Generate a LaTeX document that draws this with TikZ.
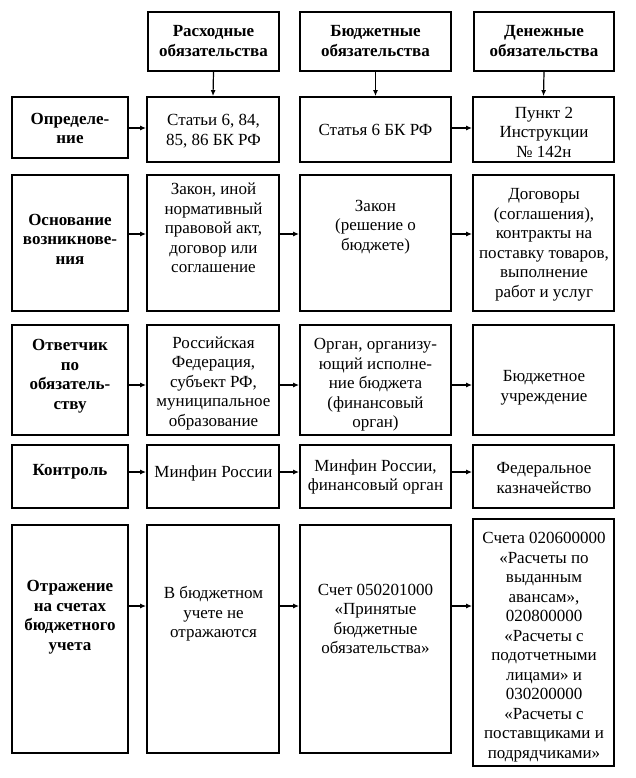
\documentclass[tikz,border=0pt]{standalone}
\usepackage{fontspec}
\setmainfont{Liberation Serif}
\usetikzlibrary{arrows.meta}
\newcommand\mkbox[5]{\node[cellbox, minimum width={#3-#2}, minimum height={#5-#4}] (#1) at ({(#2+#3)/2},{(#4+#5)/2}) {};}
\begin{document}
\begin{tikzpicture}[x=1pt,y=-1pt,
  cellbox/.style={draw, line width=1.8pt, inner sep=0pt},
  txt/.style={align=center, inner sep=0pt, font=\fontsize{17}{19.5}\selectfont},
  btxt/.style={txt, font=\fontsize{17}{19.5}\selectfont\bfseries},
  arr/.style={line width=1.2pt, -{Latex[length=6pt,width=5pt]}}]
\useasboundingbox (0,0) rectangle (635,778);
% header
\mkbox{h1}{148}{279}{12}{71}
\mkbox{h2}{300}{451}{12}{71}
\mkbox{h3}{474}{614}{12}{71}
\node[btxt] at (213.5,41) {Расходные\\обязательства};
\node[btxt] at (375.5,41) {Бюджетные\\обязательства};
\node[btxt] at (544,41) {Денежные\\обязательства};
% row 1
\mkbox{a0}{12}{128}{97}{158}
\mkbox{a1}{147}{279}{97}{162}
\mkbox{a2}{300}{451}{97}{162}
\mkbox{a3}{473}{614}{97}{162}
\node[btxt] at (70,128.5) {Определе-\\ние};
\node[txt] at (213.5,131) {Статьи 6, 84,\\85, 86 БК РФ};
\node[txt] at (375.5,130) {Статья 6 БК РФ};
\node[txt] at (544,132) {Пункт 2\\Инструкции\\№ 142н};
% row 2
\mkbox{b0}{12}{128}{175}{311}
\mkbox{b1}{147}{279}{175}{311}
\mkbox{b2}{300}{451}{175}{311}
\mkbox{b3}{473}{614}{175}{311}
\node[btxt] at (70,239) {Основание\\возникнове-\\ния};
\node[txt] at (213.5,228) {Закон, иной\\нормативный\\правовой акт,\\договор или\\соглашение};
\node[txt] at (375.5,227) {Закон\\(решение о\\бюджете)};
\node[txt] at (544,245) {Договоры\\(соглашения),\\контракты на\\поставку товаров,\\выполнение\\работ и услуг};
% row 3
\mkbox{c0}{12}{128}{325}{435}
\mkbox{c1}{147}{279}{325}{435}
\mkbox{c2}{300}{451}{325}{435}
\mkbox{c3}{473}{614}{325}{435}
\node[btxt] at (70,376) {Ответчик\\по\\обязатель-\\ству};
\node[txt] at (213.5,383) {Российская\\Федерация,\\субъект РФ,\\муниципальное\\образование};
\node[txt] at (375.5,385) {Орган, организу-\\ющий исполне-\\ние бюджета\\(финансовый\\орган)};
\node[txt] at (544,388) {Бюджетное\\учреждение};
% row 4
\mkbox{d0}{12}{128}{445}{508}
\mkbox{d1}{147}{279}{445}{508}
\mkbox{d2}{300}{451}{445}{508}
\mkbox{d3}{473}{614}{445}{508}
\node[btxt] at (70,472) {Контроль};
\node[txt] at (213.5,473) {Минфин России};
\node[txt] at (375.5,477) {Минфин России,\\финансовый орган};
\node[txt] at (544,478) {Федеральное\\казначейство};
% row 5
\mkbox{e0}{12}{128}{525}{753}
\mkbox{e1}{147}{279}{525}{753}
\mkbox{e2}{300}{451}{525}{753}
\mkbox{e3}{473}{614}{519}{766}
\node[btxt] at (70,617) {Отражение\\на счетах\\бюджетного\\учета};
\node[txt] at (213.5,614) {В бюджетном\\учете не\\отражаются};
\node[txt] at (375.5,619) {Счет 050201000\\«Принятые\\бюджетные\\обязательства»};
\node[txt] at (544,647) {Счета 020600000\\«Расчеты по\\выданным\\авансам»,\\020800000\\«Расчеты с\\подотчетными\\лицами» и\\030200000\\«Расчеты с\\поставщиками и\\подрядчиками»};
% vertical arrows
\draw[arr] (h1.south) -- (a1.north);
\draw[arr] (h2.south) -- (a2.north);
\draw[arr] (h3.south) -- (a3.north);
% horizontal arrows
\draw[arr] (a0.east |- 0,128) -- (a1.west |- 0,128);
\draw[arr] (a2.east |- 0,128) -- (a3.west |- 0,128);
\draw[arr] (b0.east |- 0,234) -- (b1.west |- 0,234);
\draw[arr] (b1.east |- 0,234) -- (b2.west |- 0,234);
\draw[arr] (b2.east |- 0,234) -- (b3.west |- 0,234);
\draw[arr] (c0.east |- 0,385) -- (c1.west |- 0,385);
\draw[arr] (c1.east |- 0,385) -- (c2.west |- 0,385);
\draw[arr] (c2.east |- 0,385) -- (c3.west |- 0,385);
\draw[arr] (d0.east |- 0,472) -- (d1.west |- 0,472);
\draw[arr] (d1.east |- 0,472) -- (d2.west |- 0,472);
\draw[arr] (d2.east |- 0,472) -- (d3.west |- 0,472);
\draw[arr] (e0.east |- 0,606) -- (e1.west |- 0,606);
\draw[arr] (e1.east |- 0,606) -- (e2.west |- 0,606);
\draw[arr] (e2.east |- 0,606) -- (e3.west |- 0,606);
\end{tikzpicture}
\end{document}
